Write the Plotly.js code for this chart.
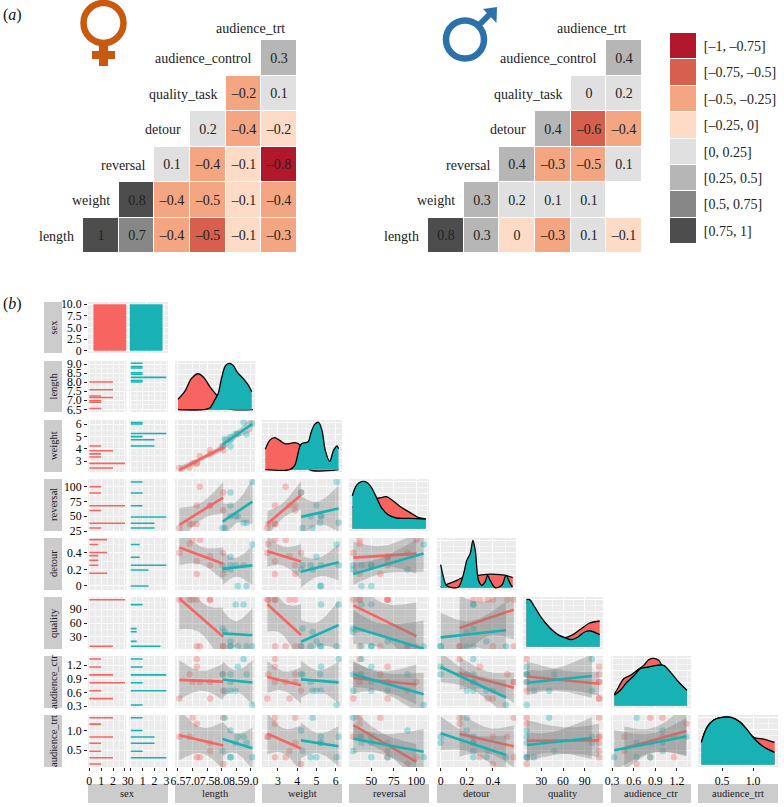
<!DOCTYPE html>
<html><head><meta charset="utf-8">
<script src="https://cdn.plot.ly/plotly-3.0.1.min.js"></script>
<style>html,body{margin:0;padding:0;background:#fff}#c{width:784px;height:807px}</style>
</head><body><div id="c"></div>
<script>
// ---------- panel (a): correlation matrices ----------
const hmX = ['weight','reversal','detour','quality_task','audience_control','audience_trt'];
const hmY = ['length','weight','reversal','detour','quality_task','audience_control'];
const rowNames = ['length','weight','reversal','detour','quality_task','audience_control'];
const femaleCorr = [
 [1,.7,-.4,-.52,-.1,-.3],
 [null,.8,-.4,-.48,-.1,-.4],
 [null,null,.1,-.4,-.1,-.8],
 [null,null,null,.2,-.4,-.2],
 [null,null,null,null,-.26,.1],
 [null,null,null,null,null,.3]];
const femaleLabels = [
 ['1','0.7','–0.4','–0.5','–0.1','–0.3'],
 ['','0.8','–0.4','–0.5','–0.1','–0.4'],
 ['','','0.1','–0.4','–0.1','–0.8'],
 ['','','','0.2','–0.4','–0.2'],
 ['','','','','–0.2','0.1'],
 ['','','','','','0.3']];
const maleCorr = [
 [.8,.3,-.01,-.3,.1,-.1],
 [null,.3,.2,.1,.1,null],
 [null,null,.4,-.3,-.48,.1],
 [null,null,null,.4,-.6,-.4],
 [null,null,null,null,.01,.2],
 [null,null,null,null,null,.4]];
const maleLabels = [
 ['0.8','0.3','0','–0.3','0.1','–0.1'],
 ['','0.3','0.2','0.1','0.1',''],
 ['','','0.4','–0.3','–0.5','0.1'],
 ['','','','0.4','–0.6','–0.4'],
 ['','','','','0','0.2'],
 ['','','','','','0.4']];
const binLabels = ['[–1, –0.75]','[–0.75, –0.5]','[–0.5, –0.25]','[–0.25, 0]','[0, 0.25]','[0.25, 0.5]','[0.5, 0.75]','[0.75, 1]'];
const binMid = [-.875,-.625,-.375,-.125,.125,.375,.625,.875];
const binColors = ['#B2182B','#D6604D','#F4A582','#FDDBC7','#E0E0E0','#B6B6B6','#878787','#4D4D4D'];

// ---------- panel (b): the twenty individuals ----------
const femaleLength  = [6.55,6.9,7.0,7.15,7.15,7.25,7.6,7.6,8.05,8.05];
const femaleWeight  = [2.45,2.5,2.85,2.85,2.85,3.4,3.6,3.9,4.2,3.9];
const femaleReversal= [30,37,37,68,37,100,68,68,90,60];
const femaleDetour  = [.4,.51,.56,.3,.145,.56,.36,.25,.4,.145];
const femaleQuality = [110,110,110,110,10,10,110,110,10,10];
const femaleCtr     = [.47,1.0,.83,1.16,1.33,.83,.47,.83,.64,1.0];
const femaleTrt     = [.84,.84,1.32,.32,1.17,.32,.48,.69,.15,1.32];
const maleLength  = [8.03,8.1,8.3,8.3,8.3,8.48,8.55,8.75,8.85,9.05];
const maleWeight  = [4.28,4.8,5.0,4.2,4.7,5.24,5.24,6.15,5.2,6.05];
const maleReversal= [30,30,68,90,50,50,50,39,39,108];
const maleDetour  = [.25,.2,.35,.2,.25,.25,0,.25,0,.5];
const maleQuality = [48,41,20,10,10,100,10,100,10,10];
const maleCtr     = [1.0,.64,.64,1.0,.83,.64,1.16,1.33,1.0,.33];
const maleTrt     = [.48,1.32,.32,1.0,.32,.69,.84,.84,.69,.32];

// ---------- density curves read from the diagonal ----------
const dLengthFx=[6.5,6.73,6.96,7.19,7.39,7.61,7.82,7.99,8.17,8.4,9.07];
const dLengthFy=[.225,.387,.669,.775,.69,.479,.317,.141,.035,0,0];
const dLengthMx=[6.5,7.36,7.59,7.76,7.88,7.99,8.13,8.26,8.4,8.53,8.74,8.91,9.03];
const dLengthMy=[0,0,.035,.211,.352,.669,.951,1.0,.951,.81,.669,.528,.387];
const dWeightFx=[2.34,2.57,2.83,3.09,3.35,3.61,3.87,4.13,4.39,4.65,6.15];
const dWeightFy=[.43,.62,.676,.62,.55,.55,.57,.528,.197,0,0];
const dWeightMx=[2.34,3.61,3.87,4.04,4.16,4.3,4.56,4.73,4.91,5.11,5.29,5.46,5.69,5.89,6.07,6.15];
const dWeightMy=[0,0,.09,.338,.514,.563,.585,.796,.958,1.0,.831,.408,.176,.408,.5,.444];
const dReversalFx=[28.9,37,48,58.5,66.7,74,81.5,92.6,101.9,110.4];
const dReversalFy=[.45,.59,.648,.648,.676,.59,.472,.345,.239,.204];
const dReversalMx=[28.9,33.3,38.9,44.4,50,55.6,61,68.5,77.8,92.6,110.4];
const dReversalMy=[.697,.908,.993,.986,.873,.662,.45,.296,.225,.218,.204];
const dDetourFx=[0,.043,.125,.176,.29,.354,.455,.519,.552];
const dDetourFy=[.014,.063,.155,.225,.26,.282,.275,.246,.211];
const dDetourMx=[0,.018,.043,.087,.137,.176,.2,.226,.247,.265,.29,.316,.341,.359,.379,.417,.468,.501,.532,.55];
const dDetourMy=[.486,.26,.049,0,.014,.296,.577,.718,1.0,.789,.155,.049,.12,.26,.155,0,.049,.26,.085,.014];
const dQualityFx=[9.2,30,53,62.3,73.8,85.3,96.8,110.8];
const dQualityFy=[.944,.592,.232,.19,.254,.38,.5,.542];
const dQualityMx=[9.2,13.8,20.8,30,41.5,53,62.3,71.5,80.8,90,97.8,110.8];
const dQualityMy=[.993,.993,.838,.613,.401,.254,.19,.148,.204,.31,.331,.254];
const dCtrFx=[.332,.392,.462,.554,.646,.738,.808,.877,.946,.992,1.108,1.223,1.338];
const dCtrFy=[.239,.394,.57,.641,.746,.852,.972,1.0,.958,.852,.676,.479,.31];
const dCtrMx=[.332,.415,.508,.6,.692,.808,.923,1.015,1.108,1.223,1.338];
const dCtrMy=[.218,.324,.5,.627,.782,.817,.852,.852,.711,.5,.324];
const dTrtFx=[.167,.258,.366,.5,.661,.796,.903,1.011,1.172,1.349];
const dTrtFy=[.472,.789,.944,1.0,.993,.894,.739,.577,.542,.472];
const dTrtMx=[.167,.258,.366,.5,.661,.796,.903,1.011,1.145,1.253,1.349];
const dTrtMy=[.472,.789,.944,1.0,.993,.894,.739,.563,.401,.317,.261];

// tick values & labels
const varNames = ['length','weight','reversal','detour','quality','audience_ctr','audience_trt'];
const sexCounts = [10,10];
const sexTickVals = [0,2.5,5,7.5,10];
const sexTickText = ['0','2.5','5.0','7.5','10.0'];
const countTicks = [0,1,2,3];
const tick = {
 length:{v:[6.5,7,7.5,8,8.5,9],t:['6.5','7.0','7.5','8.0','8.5','9.0']},
 weight:{v:[3,4,5,6],t:['3','4','5','6']},
 reversal:{v:[25,50,75,100],t:['25','50','75','100']},
 detour:{v:[0,.2,.4],t:['0','0.2','0.4']},
 quality:{v:[30,60,90],t:['30','60','90']},
 audience_ctr:{v:[.3,.6,.9,1.2],t:['0.3','0.6','0.9','1.2']},
 audience_trt:{v:[.5,1],t:['0.5','1.0']}};
const xTicks = Object.assign({},tick,{reversal:{v:[50,75,100],t:['50','75','100']}});
const xRanges = [[6.40,9.14],[2.17,6.33],[25.2,114],[-.028,.577],[4.6,115.4],[.286,1.394],[.113,1.403]];
const yRanges = [[6.354,9.18],[2.13,6.35],[25,113],[-.049,.58],[4,116],[.263,1.397],[.076,1.39]];

const cols = {red:'#F8645F',teal:'#18B2B5'};
const F = [femaleLength,femaleWeight,femaleReversal,femaleDetour,femaleQuality,femaleCtr,femaleTrt];
const M = [maleLength,maleWeight,maleReversal,maleDetour,maleQuality,maleCtr,maleTrt];
const DF = [[dLengthFx,dLengthFy],[dWeightFx,dWeightFy],[dReversalFx,dReversalFy],[dDetourFx,dDetourFy],[dQualityFx,dQualityFy],[dCtrFx,dCtrFy],[dTrtFx,dTrtFy]];
const DM = [[dLengthMx,dLengthMy],[dWeightMx,dWeightMy],[dReversalMx,dReversalMy],[dDetourMx,dDetourMy],[dQualityMx,dQualityMy],[dCtrMx,dCtrMy],[dTrtMx,dTrtMy]];

// ---------- layout geometry ----------
const W=784,H=807,FONT='"Liberation Serif","Times New Roman",serif',TICK=11.8;
const xd=(a,b)=>[a/W,b/W], yd=(t,b)=>[1-b/H,1-t/H];
const colPx=[[175,255],[262,342],[349,429],[437,516],[523,603],[611,691],[698,778]];
const rowPx=[[361,412],[420,472],[479,531],[538,590],[597,649],[656,708],[715,767]];
const layout={width:W,height:H,margin:{l:0,r:0,t:0,b:0},paper_bgcolor:'#fff',plot_bgcolor:'rgba(0,0,0,0)',
  showlegend:false,hovermode:false,barmode:'overlay',font:{family:FONT,size:11,color:'#000'},shapes:[],annotations:[]};
const traces=[];

function panelBg(x0,x1,y0,y1){
  layout.shapes.push({type:'rect',xref:'paper',yref:'paper',x0:x0/W,x1:x1/W,y0:1-y1/H,y1:1-y0/H,fillcolor:'#EBEBEB',line:{width:0},layer:'below'});
}
function gridAxis(dom,range,ticks,step,extra){
  return Object.assign({domain:dom,range:range,tickmode:'array',tickvals:ticks.v,ticktext:ticks.t,tickangle:0,
    showgrid:true,gridcolor:'#fff',gridwidth:1,zeroline:false,showline:false,ticks:'',showticklabels:false,
    tickfont:{family:FONT,size:TICK,color:'#000'},
    minor:{tick0:ticks.v[0]-step,dtick:step,showgrid:true,gridcolor:'#fff',gridwidth:.5,ticks:''}},extra||{});
}
const labelled=(a)=>({anchor:a,ticks:'outside',ticklen:3,tickwidth:1,tickcolor:'#222',showticklabels:true});
const axKey=(p,i)=>p+'axis'+(i===1?'':i);

// axis ids: x1 sex bars, x2/x3 count axes, x4.. columns; x11,12,13 heatmaps/legend
// y1 sex bars, y2..y8 rows, y9..y15 density, y16..y18 heatmaps/legend
const steps=[.25,.5,12.5,.1,15,.15,.25];
layout.xaxis=gridAxis(xd(88,168),[-.6,1.6],{v:[0,1],t:['','']},.5,{});
layout.yaxis=gridAxis(yd(302,353),[-.5,10.5],{v:sexTickVals,t:sexTickText},1.25,labelled('x'));
panelBg(88,168,302,353);
const cnt={v:countTicks,t:countTicks.map(String)};
layout[axKey('x',2)]=gridAxis(xd(88,126.5),[-.11,3.13],cnt,.5,labelled('y8'));
layout[axKey('x',3)]=gridAxis(xd(129.3,168),[-.12,3.13],cnt,.5,labelled('y8'));
varNames.forEach((n,i)=>{
  layout[axKey('x',4+i)]=gridAxis(xd(colPx[i][0],colPx[i][1]),xRanges[i],xTicks[n],steps[i],labelled(i===6?'y15':'y8'));
  layout[axKey('y',2+i)]=gridAxis(yd(rowPx[i][0],rowPx[i][1]),yRanges[i],tick[n],steps[i],labelled('x2'));
  layout[axKey('y',9+i)]=gridAxis(yd(rowPx[i][0],rowPx[i][1]),[-.05,1.05],{v:[0,.25,.5,.75,1],t:['','','','','']},.125,{anchor:'x'+(4+i)});
  panelBg(88,126.5,rowPx[i][0],rowPx[i][1]);
  panelBg(129.3,168,rowPx[i][0],rowPx[i][1]);
  for(let c=0;c<=i;c++) panelBg(colPx[c][0],colPx[c][1],rowPx[i][0],rowPx[i][1]);
});

// sex bars
traces.push({type:'bar',x:[0],y:[sexCounts[0]],width:.9,marker:{color:cols.red,line:{width:0}},xaxis:'x',yaxis:'y'});
traces.push({type:'bar',x:[1],y:[sexCounts[1]],width:.9,marker:{color:cols.teal,line:{width:0}},xaxis:'x',yaxis:'y'});

function binCounts(vals,all){
  const mn=Math.min(...all),mx=Math.max(...all),w=(mx-mn)/29,c={};
  vals.forEach(v=>{const k=Math.round((v-mn)/w);c[k]=(c[k]||0)+1;});
  return {mn,w,c};
}
// bars of a row are scaled so that its tallest count reaches 3, as in the reference
function histRow(fv,mv,ay){
  const all=fv.concat(mv),a=binCounts(fv,all),b=binCounts(mv,all);
  const top=Math.max(...Object.values(a.c),...Object.values(b.c)),f=3/top;
  [[a,'x2',cols.red],[b,'x3',cols.teal]].forEach(([h,ax,color])=>{
    const ks=Object.keys(h.c).map(Number);
    traces.push({type:'bar',orientation:'h',y:ks.map(k=>h.mn+k*h.w),x:ks.map(k=>h.c[k]*f),width:h.w,
      marker:{color:color,line:{width:0}},xaxis:ax,yaxis:ay});
  });
}
function lm(xs,ys){
  const n=xs.length,mx=xs.reduce((a,b)=>a+b)/n,my=ys.reduce((a,b)=>a+b)/n;
  let sxx=0,sxy=0;xs.forEach((x,i)=>{sxx+=(x-mx)**2;sxy+=(x-mx)*(ys[i]-my);});
  const b=sxy/sxx,a=my-b*mx;let rss=0;xs.forEach((x,i)=>{rss+=(ys[i]-a-b*x)**2;});
  const s=Math.sqrt(rss/(n-2)),t=2.306,lo=Math.min(...xs),hi=Math.max(...xs),gx=[],fit=[],up=[],dn=[];
  for(let k=0;k<=60;k++){const x=lo+(hi-lo)*k/60,se=s*Math.sqrt(1/n+(x-mx)**2/sxx),f=a+b*x;gx.push(x);fit.push(f);up.push(f+t*se);dn.push(f-t*se);}
  return {gx,fit,up,dn};
}
function scatterPanel(xs,ys,ax,ay,color){
  traces.push({type:'scatter',mode:'markers',x:xs,y:ys,xaxis:ax,yaxis:ay,marker:{color:color,size:6.5,opacity:.36,line:{width:0}}});
}
function smoothPanel(xs,ys,ax,ay,color){
  const r=lm(xs,ys);
  traces.push({type:'scatter',mode:'lines',x:r.gx.concat(r.gx.slice().reverse()),y:r.up.concat(r.dn.slice().reverse()),
    xaxis:ax,yaxis:ay,fill:'toself',fillcolor:'rgba(125,125,125,.36)',line:{width:0}});
  traces.push({type:'scatter',mode:'lines',x:r.gx,y:r.fit,xaxis:ax,yaxis:ay,line:{color:color,width:2.6}});
}
function density(d,ax,ay,color){
  traces.push({type:'scatter',mode:'lines',x:d[0],y:d[1],xaxis:ax,yaxis:ay,fill:'tozeroy',fillcolor:color,
    line:{color:'#000',width:1.3,shape:'spline',smoothing:.9}});
}
for(let r=0;r<7;r++){
  const ay='y'+(2+r);
  histRow(F[r],M[r],ay);
  for(let c=0;c<r;c++){
    const ax='x'+(4+c);
    scatterPanel(F[c],F[r],ax,ay,cols.red);
    scatterPanel(M[c],M[r],ax,ay,cols.teal);
    smoothPanel(F[c],F[r],ax,ay,cols.red);
    smoothPanel(M[c],M[r],ax,ay,cols.teal);
  }
  density(DF[r],'x'+(4+r),'y'+(9+r),cols.red);
  density(DM[r],'x'+(4+r),'y'+(9+r),cols.teal);
}

// heatmaps
const scale=[];binColors.forEach((c,i)=>{scale.push([i/8,c]);scale.push([(i+1)/8,c]);});
function heat(z,labels,xi,yi,px,py,trtRight){
  layout[axKey('x',xi)]={domain:xd(px[0],px[1]),type:'category',categoryorder:'array',categoryarray:hmX,range:[-.5,5.5],showgrid:false,zeroline:false,showticklabels:false,ticks:'',anchor:'y'+yi};
  layout[axKey('y',yi)]={domain:yd(py[0],py[1]),type:'category',categoryorder:'array',categoryarray:hmY,range:[-.5,5.5],showgrid:false,zeroline:false,showticklabels:false,ticks:'',anchor:'x'+xi};
  traces.push({type:'heatmap',x:hmX,y:hmY,z:z,text:labels,texttemplate:'%{text}',textfont:{family:FONT,size:14,color:'#222'},
    colorscale:scale,zmin:-1,zmax:1,showscale:false,xgap:1,ygap:1,hoverongaps:false,xaxis:'x'+xi,yaxis:'y'+yi});
  rowNames.forEach((n,i)=>layout.annotations.push({xref:'x'+xi,yref:'y'+yi,x:i-.5,y:i,text:n,showarrow:false,xanchor:'right',xshift:-7,yshift:-1,font:{family:FONT,size:14,color:'#222'}}));
  layout.annotations.push({xref:'paper',yref:'paper',x:trtRight/W,y:1-29/H,text:'audience_trt',showarrow:false,xanchor:'right',yanchor:'middle',font:{family:FONT,size:14,color:'#222'}});
}
heat(femaleCorr,femaleLabels,11,16,[83,297],[40,253],287);
heat(maleCorr,maleLabels,12,17,[428,642],[40,253],628);
layout[axKey('x',13)]={domain:xd(670,696),type:'category',showgrid:false,zeroline:false,showticklabels:false,ticks:'',anchor:'y18'};
layout[axKey('y',18)]={domain:yd(33,244),type:'category',categoryorder:'array',categoryarray:binLabels,range:[7.5,-.5],side:'right',anchor:'x13',showgrid:false,zeroline:false,ticks:'outside',ticklen:4,tickcolor:'rgba(0,0,0,0)',tickfont:{family:FONT,size:14,color:'#222'},tickmode:'array',tickvals:binLabels,ticktext:binLabels};
traces.push({type:'heatmap',x:['k'],y:binLabels,z:binMid.map(v=>[v]),colorscale:scale,zmin:-1,zmax:1,showscale:false,xgap:0,ygap:1,xaxis:'x13',yaxis:'y18'});

// strips
function strip(x0,y0,x1,y1,text,rot){
  layout.shapes.push({type:'rect',xref:'paper',yref:'paper',x0:x0/W,x1:x1/W,y0:1-y1/H,y1:1-y0/H,fillcolor:'#CCCCCC',line:{width:0},layer:'below'});
  layout.annotations.push({xref:'paper',yref:'paper',x:(x0+x1)/2/W,y:1-(y0+y1)/2/H,text:text,showarrow:false,textangle:rot,xanchor:'center',yanchor:'middle',font:{family:FONT,size:10.5,color:'#1a1a1a'}});
}
strip(44,302,62,353,'sex',-90);
varNames.forEach((n,i)=>strip(44,rowPx[i][0],62,rowPx[i][1],n,-90));
strip(88,784,168,803,'sex',0);
varNames.forEach((n,i)=>strip(colPx[i][0],784,colPx[i][1],803,n,0));

// panel letters
layout.annotations.push({xref:'paper',yref:'paper',x:1/W,y:1-15/H,text:'(<i>a</i>)',showarrow:false,xanchor:'left',yanchor:'middle',font:{family:FONT,size:16,color:'#111'}});
layout.annotations.push({xref:'paper',yref:'paper',x:1/W,y:1-304/H,text:'(<i>b</i>)',showarrow:false,xanchor:'left',yanchor:'middle',font:{family:FONT,size:16,color:'#111'}});

// sex symbols
const P=(x,y)=>(x/W).toFixed(5)+','+(1-y/H).toFixed(5);
const gen=(o)=>Object.assign({xref:'paper',yref:'paper'},o);
const FC='#C8590F',MC='#2C70AC';
layout.shapes.push(gen({type:'circle',x0:83.5/W,x1:123.5/W,y0:1-43/H,y1:1-3/H,line:{color:FC,width:6.5}}));
layout.shapes.push(gen({type:'rect',x0:99/W,x1:108/W,y0:1-66/H,y1:1-45/H,fillcolor:FC,line:{width:0}}));
layout.shapes.push(gen({type:'rect',x0:92/W,x1:115/W,y0:1-59/H,y1:1-51/H,fillcolor:FC,line:{width:0}}));
layout.shapes.push(gen({type:'circle',x0:446/W,x1:484/W,y0:1-58.5/H,y1:1-20.5/H,line:{color:MC,width:6.5}}));
layout.shapes.push(gen({type:'line',x0:477/W,y0:1-27/H,x1:492/W,y1:1-12/H,line:{color:MC,width:6}}));
layout.shapes.push(gen({type:'path',path:'M'+P(483,9)+' L'+P(497,7)+' L'+P(496.5,23)+' Z',fillcolor:MC,line:{width:0}}));

Plotly.newPlot('c',traces,layout,{displayModeBar:false,staticPlot:true});
</script></body></html>
